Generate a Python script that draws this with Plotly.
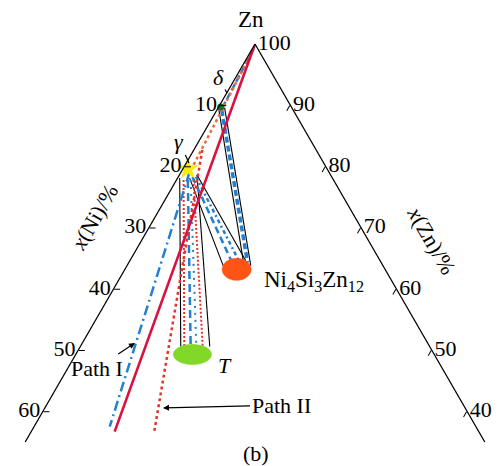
import numpy as np
import plotly.graph_objects as go

# ---- data: compositions as (Zn, Ni, Si) in x/% ----
zn_corner = (100.0, 0.0, 0.0)
delta_pt = (89.7, 10.0, 0.3)
gamma_pt = (79.6, 19.7, 0.7)
ni4si3zn12_pt = (63.2, 21.0, 15.8)
t_pt = (49.3, 34.2, 16.5)

# straight lines: list of (Zn, Ni, Si) end points
red_solid = [(100.0, 0.0, 0.0), (36.7, 51.5, 11.8)]
path1_long = [(79.1, 19.7, 1.2), (37.5, 51.8, 10.7)]
path1_edge = [(99.2, 0.6, 0.2), (89.4, 10.0, 0.6)]
path2_upper = [(99.0, 0.8, 0.2), (79.9, 18.9, 1.2)]
path2_long = [(82.7, 16.1, 1.2), (36.7, 45.9, 17.4)]

# tie bands: delta - Ni4Si3Zn12
bandA_left = [(89.2, 10.5, 0.3), (64.5, 19.4, 16.1)]
bandA_right = [(89.6, 9.5, 0.9), (63.8, 18.7, 17.5)]
bandA_mid = [(89.2, 10.1, 0.7), (64.3, 18.9, 16.8)]
# gamma - Ni4Si3Zn12
bandB_left = [(78.1, 20.2, 1.7), (63.8, 22.6, 13.6)]
bandB_right = [(78.6, 18.9, 2.5), (64.6, 19.0, 16.4)]
bandB_mid1 = [(78.3, 19.7, 2.0), (64.1, 21.1, 14.8)]
bandB_mid2 = [(78.3, 19.2, 2.5), (64.4, 20.0, 15.6)]
# gamma - T
bandC_left = [(78.1, 21.6, 0.3), (50.6, 35.2, 14.2)]
bandC_right = [(78.6, 18.9, 2.5), (50.6, 31.1, 18.3)]
bandC_red1 = [(77.8, 21.2, 1.0), (50.6, 34.7, 14.7)]
bandC_blue1 = [(77.8, 20.6, 1.6), (50.6, 33.8, 15.6)]
bandC_blue2 = [(77.8, 20.2, 2.0), (50.6, 33.0, 16.4)]
bandC_red2 = [(77.8, 19.8, 2.4), (50.6, 32.1, 17.3)]

# tick labels
zn_ticks = [90, 80, 70, 60, 50, 40]
ni_tick_text = ["10", "20", "30", "40", "50", "60"]
si_ticks = [0, 10, 20, 30, 40, 50, 60]
zn_tick_text = ["100", "90", "80", "70", "60", "50", "40"]

RED = "#d8123e"
BLUE = "#2180cf"
ORANGE_DOT = "#ef6a3a"
RED_DOT = "#e2332c"
SERIF = "Liberation Serif, Times New Roman, serif"

fig = go.Figure()


def seg(pts, color, width, dash="solid"):
    fig.add_trace(go.Scatterternary(
        a=[p[0] for p in pts], b=[p[1] for p in pts], c=[p[2] for p in pts],
        mode="lines", line=dict(color=color, width=width, dash=dash),
        hoverinfo="skip", showlegend=False, cliponaxis=False))


def ellipse(center, hd, hs, color, n=72):
    zn0, ni0, si0 = center
    s0 = ni0 + si0
    d0 = si0 - ni0
    t = np.linspace(0, 2 * np.pi, n)
    s = s0 + hs * np.sin(t)
    d = d0 + hd * np.cos(t)
    ni = (s - d) / 2
    si = (s + d) / 2
    zn = 100 - s
    fig.add_trace(go.Scatterternary(
        a=zn, b=ni, c=si, mode="lines", fill="toself", fillcolor=color,
        line=dict(color=color, width=0.5), hoverinfo="skip", showlegend=False))


# bands (black outlines)
for band in (bandA_left, bandA_right, bandB_left, bandB_right, bandC_left, bandC_right):
    seg(band, "black", 1.1)
# band interiors
seg(bandA_mid, BLUE, 3.5, "6px,3px")
seg(bandB_mid1, BLUE, 2.5, "7px,4px")
seg(bandB_mid2, BLUE, 2.5, "4px,3px,2px,3px")
seg(bandC_red1, RED_DOT, 2, "2px,2px")
seg(bandC_blue1, BLUE, 2.5, "8px,5px")
seg(bandC_blue2, BLUE, 2, "2px,5px")
seg(bandC_red2, RED_DOT, 2, "2px,2px")

# paths
seg(path1_edge, BLUE, 2.5, "7px,3px")
seg(path2_upper, ORANGE_DOT, 2.5, "3px,3px")
seg(path2_long, RED_DOT, 2.5, "3px,3px")
seg(path1_long, BLUE, 2.5, "10px,4px,2px,4px")
seg(red_solid, RED, 2.6)

# phases
ellipse(ni4si3zn12_pt, 4.1, 1.8, "#ff5414")
ellipse(t_pt, 5.4, 1.65, "#82d829")
fig.add_trace(go.Scatterternary(
    a=[gamma_pt[0]], b=[gamma_pt[1]], c=[gamma_pt[2]], mode="markers",
    marker=dict(symbol="star", size=17, color="#f4ee10", line=dict(width=0)),
    hoverinfo="skip", showlegend=False, cliponaxis=False))
fig.add_trace(go.Scatterternary(
    a=[delta_pt[0]], b=[delta_pt[1]], c=[delta_pt[2]], mode="markers",
    marker=dict(symbol="circle", size=7, color="#1b6e22"),
    hoverinfo="skip", showlegend=False, cliponaxis=False))

tickfont = dict(family=SERIF, size=22, color="black")
# page body has an 8px default margin: plot area placed to compensate
fig.update_layout(
    width=486, height=458,
    margin=dict(l=17, r=9, t=36, b=24),
    paper_bgcolor="white",
    font=dict(family=SERIF, size=22, color="black"),
    ternary=dict(
        sum=100,
        bgcolor="white",
        aaxis=dict(min=35, tickmode="array", tickvals=zn_ticks, ticktext=ni_tick_text,
                   ticks="inside", ticklen=6, tickcolor="black", tickwidth=1,
                   showgrid=False, showline=True, linecolor="black", linewidth=1.3,
                   tickfont=tickfont, title=dict(text="")),
        baxis=dict(min=0, showgrid=False, showline=False, showticklabels=False,
                   ticks="", title=dict(text="")),
        caxis=dict(min=0, tickmode="array", tickvals=si_ticks, ticktext=zn_tick_text,
                   ticks="inside", ticklen=6, tickcolor="black", tickwidth=1,
                   showgrid=False, showline=True, linecolor="black", linewidth=1.3,
                   tickfont=tickfont, title=dict(text="")),
    ),
)


def px(xp, yp):
    # window pixel -> paper fraction of the plot area
    return (xp - 25) / 460, (442 - yp) / 398


def note(text, pos, size=22, angle=0, xanchor="center"):
    x, y = px(*pos)
    fig.add_annotation(x=x, y=y, xref="paper", yref="paper", text=text,
                       showarrow=False, textangle=angle, xanchor=xanchor,
                       yanchor="middle",
                       font=dict(family=SERIF, size=size, color="black"))


def pointer(text, head, offset, head_style=2, size=22):
    x, y = px(*head)
    fig.add_annotation(x=x, y=y, xref="paper", yref="paper", text=text,
                       showarrow=True, ax=offset[0], ay=offset[1],
                       arrowhead=head_style, arrowsize=1, arrowwidth=1.2,
                       arrowcolor="black", standoff=0,
                       font=dict(family=SERIF, size=size, color="black"))


note("Zn", (251, 20), size=23)
note("<i>x</i>(Ni)/%", (94, 217), angle=-60)
note("<i>x</i>(Zn)/%", (432, 240), angle=60)
note("Ni<sub>4</sub>Si<sub>3</sub>Zn<sub>12</sub>", (262, 281), size=23, xanchor="left")
note("<i>T</i>", (225, 365))
note("(b)", (256, 453))
pointer("<i>δ</i>", (227, 93), (-9, -16), head_style=0)
pointer("<i>γ</i>", (189, 163), (-10, -22), head_style=0)
pointer("Path II", (163, 408), (118, -3))
pointer("Path I", (135, 343), (-38, 25))

fig.write_html("out.html")
